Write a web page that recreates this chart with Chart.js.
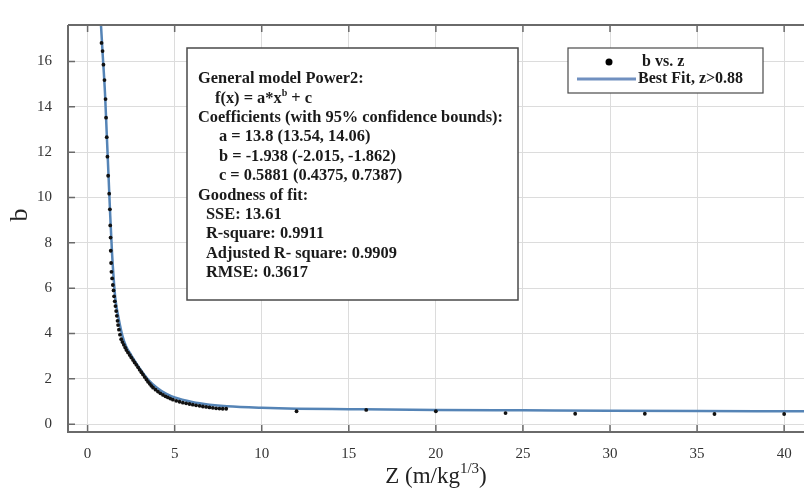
<!DOCTYPE html>
<html>
<head>
<meta charset="utf-8">
<script src="https://cdn.jsdelivr.net/npm/chart.js"></script>
<style>
  html, body { margin: 0; padding: 0; background: #fff; }
  #wrap { width: 808px; height: 488px; }
</style>
</head>
<body>
<div id="wrap"><canvas id="fit-chart" width="808" height="488"></canvas></div>
<script>
    // measured points (z, b)
    const dataZ = [0.80, 0.86, 0.91, 0.97, 1.03, 1.06, 1.10, 1.14, 1.18, 1.24, 1.28, 1.30, 1.32, 1.33, 1.35,
        1.37, 1.41, 1.45, 1.49, 1.52, 1.56, 1.60, 1.64, 1.68, 1.72, 1.75, 1.80, 1.86, 1.93, 2.00, 2.08,
        2.16, 2.23, 2.32, 2.42, 2.51, 2.61, 2.70, 2.80, 2.90, 2.99, 3.09, 3.18, 3.28, 3.38, 3.47, 3.57,
        3.66, 3.76, 3.90, 4.04, 4.18, 4.33, 4.47, 4.61, 4.75, 4.90, 5.09, 5.28, 5.47, 5.66, 5.85, 6.04,
        6.23, 6.43, 6.62, 6.81, 7.00, 7.19, 7.38, 7.57, 7.76, 7.96,
        12, 16, 20, 24, 28, 32, 36, 40];
    const dataB = [16.82, 16.46, 15.86, 15.18, 14.34, 13.52, 12.66, 11.80, 10.96, 10.17, 9.48, 8.77, 8.23, 7.65, 7.11,
        6.72, 6.43, 6.14, 5.90, 5.64, 5.42, 5.21, 4.99, 4.78, 4.56, 4.37, 4.17, 3.95, 3.75, 3.62, 3.50,
        3.38, 3.27, 3.16, 3.05, 2.94, 2.83, 2.72, 2.62, 2.51, 2.40, 2.29, 2.19, 2.08, 1.97, 1.87, 1.78,
        1.69, 1.61, 1.52, 1.44, 1.36, 1.29, 1.23, 1.18, 1.13, 1.08, 1.03, 0.99, 0.95, 0.92, 0.89, 0.86,
        0.83, 0.81, 0.78, 0.76, 0.74, 0.72, 0.70, 0.69, 0.68, 0.68,
        0.57, 0.63, 0.57, 0.49, 0.46, 0.46, 0.45, 0.45];

    // best fit curve
    const fitZ = [0.77, 0.86, 1.0, 1.1, 1.2, 1.3, 1.4, 1.5, 1.6, 1.8, 2.0, 2.2, 2.5, 3.0, 3.5, 4.0, 4.5,
        5, 6, 7, 8, 10, 12, 15, 20, 25, 30, 35, 41.2];
    const fitB = [17.6, 16.4, 14.6, 12.8, 11.0, 9.2, 7.6, 6.4, 5.5, 4.6, 3.9, 3.45, 3.05, 2.45, 1.95, 1.6, 1.35,
        1.18, 0.98, 0.86, 0.79, 0.72, 0.68, 0.66, 0.63, 0.61, 0.59, 0.58, 0.57];

    const xTicks = [0, 5, 10, 15, 20, 25, 30, 35, 40];
    const yTicks = [0, 2, 4, 6, 8, 10, 12, 14, 16];

    const fitText = [
        'General model Power2:',
        'f(x) = a*x|b| + c',
        'Coefficients (with 95% confidence bounds):',
        'a = 13.8 (13.54, 14.06)',
        'b = -1.938 (-2.015, -1.862)',
        'c = 0.5881 (0.4375, 0.7387)',
        'Goodness of fit:',
        'SSE: 13.61',
        'R-square: 0.9911',
        'Adjusted R- square: 0.9909',
        'RMSE: 0.3617'
    ];
    const textIndent = [198, 215, 198, 219, 219, 219, 198, 206, 206, 206, 206];
    const legendLabels = ['b vs. z', 'Best Fit, z>0.88'];

    const serif = '"Liberation Serif", "Times New Roman", serif';
    const fitColor = '#5584b6';
    const frameColor = '#6a6a6a';

    const decor = {
        id: 'decor',
        afterDraw(chart) {
            const c = chart.ctx, a = chart.chartArea;
            const xs = chart.scales.x, ys = chart.scales.y;
            c.save();
            // frame
            c.strokeStyle = frameColor;
            c.lineWidth = 2;
            c.beginPath();
            c.moveTo(a.left, a.top); c.lineTo(a.right, a.top);
            c.moveTo(a.left, a.top); c.lineTo(a.left, a.bottom); c.lineTo(a.right, a.bottom);
            c.stroke();
            // inward ticks
            c.lineWidth = 1.5;
            c.beginPath();
            xTicks.forEach(v => {
                const px = xs.getPixelForValue(v);
                c.moveTo(px, a.bottom); c.lineTo(px, a.bottom - 7);
                c.moveTo(px, a.top); c.lineTo(px, a.top + 7);
            });
            yTicks.forEach(v => {
                const py = ys.getPixelForValue(v);
                c.moveTo(a.left, py); c.lineTo(a.left + 7, py);
            });
            c.stroke();

            // axis titles
            c.fillStyle = '#222';
            c.textBaseline = 'alphabetic';
            c.font = '23px ' + serif;
            const main = 'Z (m/kg';
            const mw = c.measureText(main).width;
            c.font = '15px ' + serif;
            const sw = c.measureText('1/3').width;
            c.font = '23px ' + serif;
            const cw = c.measureText(')').width;
            let tx = (a.left + a.right) / 2 - (mw + sw + cw) / 2;
            c.textAlign = 'left';
            c.fillText(main, tx, 483);
            c.font = '15px ' + serif;
            c.fillText('1/3', tx + mw, 473);
            c.font = '23px ' + serif;
            c.fillText(')', tx + mw + sw, 483);

            c.save();
            c.translate(27, 215);
            c.rotate(-Math.PI / 2);
            c.textAlign = 'center';
            c.font = '26px ' + serif;
            c.fillText('b', 0, 0);
            c.restore();

            // fit result box
            c.fillStyle = '#fff';
            c.fillRect(187, 48, 331, 252);
            c.strokeStyle = '#4a4a4a';
            c.lineWidth = 1.5;
            c.strokeRect(187, 48, 331, 252);
            c.fillStyle = '#1a1a1a';
            c.textBaseline = 'middle';
            c.textAlign = 'left';
            fitText.forEach((line, i) => {
                const y = 79 + i * 19.4;
                let x = textIndent[i];
                line.split('|').forEach((part, k) => {
                    if (k % 2 === 1) {
                        c.font = 'bold 10px ' + serif;
                        c.fillText(part, x, y - 5);
                    } else {
                        c.font = 'bold 16.4px ' + serif;
                        c.fillText(part, x, y);
                    }
                    x += c.measureText(part).width;
                });
            });

            // legend
            c.fillStyle = '#fff';
            c.fillRect(568, 48, 195, 45);
            c.strokeStyle = '#4a4a4a';
            c.lineWidth = 1.2;
            c.strokeRect(568, 48, 195, 45);
            c.fillStyle = '#000';
            c.beginPath();
            c.arc(609, 62, 3.5, 0, Math.PI * 2);
            c.fill();
            c.strokeStyle = '#7090c0';
            c.lineWidth = 3;
            c.beginPath();
            c.moveTo(577, 79); c.lineTo(636, 79);
            c.stroke();
            c.fillStyle = '#1a1a1a';
            c.font = 'bold 16px ' + serif;
            c.fillText(legendLabels[0], 642, 62);
            c.fillText(legendLabels[1], 638, 79);
            c.restore();
        }
    };

    const ctx = document.getElementById('fit-chart').getContext('2d');
    new Chart(ctx, {
        type: 'scatter',
        data: {
            datasets: [{
                label: legendLabels[0],
                data: dataZ.map((z, i) => ({ x: z, y: dataB[i] })),
                backgroundColor: '#111',
                borderColor: '#111',
                pointRadius: 1.9,
                pointBorderWidth: 0,
                order: 0
            }, {
                label: legendLabels[1],
                data: fitZ.map((z, i) => ({ x: z, y: fitB[i] })),
                showLine: true,
                borderColor: fitColor,
                borderWidth: 2.5,
                pointRadius: 0,
                cubicInterpolationMode: 'monotone',
                order: 1
            }]
        },
        options: {
            responsive: false,
            animation: false,
            layout: { padding: { top: 16, right: 0, left: 0, bottom: 0 } },
            plugins: {
                legend: { display: false },
                tooltip: { enabled: false }
            },
            scales: {
                x: {
                    type: 'linear',
                    min: -1.125,
                    max: 41.14,
                    afterBuildTicks: s => { s.ticks = xTicks.map(v => ({ value: v })); },
                    afterFit: s => { s.height = 56; },
                    grid: { color: '#dcdcdc', drawTicks: false },
                    border: { display: false },
                    ticks: { color: '#333', padding: 13, font: { family: serif, size: 15 } }
                },
                y: {
                    type: 'linear',
                    min: -0.345,
                    max: 17.61,
                    afterBuildTicks: s => { s.ticks = yTicks.map(v => ({ value: v })); },
                    afterFit: s => { s.width = 68; },
                    grid: { color: '#dcdcdc', drawTicks: false },
                    border: { display: false },
                    ticks: { color: '#333', padding: 16, font: { family: serif, size: 15 } }
                }
            }
        },
        plugins: [decor]
    });
</script>
</body>
</html>
